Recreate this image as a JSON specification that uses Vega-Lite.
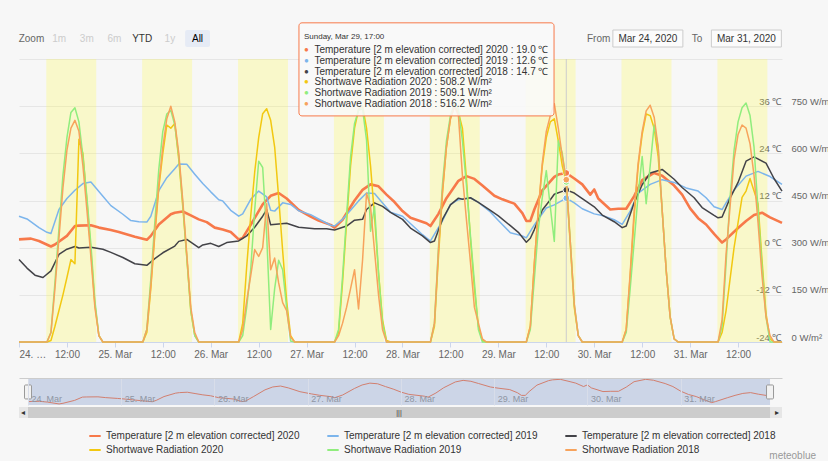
{
"$schema":"https://vega.github.io/schema/vega-lite/v6.json",
"background":"#f7f7f7",
"padding":{"left":17,"top":22,"right":0,"bottom":0},
"config":{
 "font":"Liberation Sans",
 "view":{"stroke":null},
 "axis":{"labelFont":"Liberation Sans","labelColor":"#666666","labelFontSize":10},
 "legend":{"labelFont":"Liberation Sans","labelFontSize":10,"labelColor":"#333333","labelLimit":400,"symbolType":"stroke","symbolStrokeWidth":2,"symbolSize":130,"columnPadding":23,"rowPadding":2,"labelOffset":4},
 "text":{"font":"Liberation Sans"},
 "title":{"font":"Liberation Sans"}
},
"title":{"text":"meteoblue","orient":"bottom","anchor":"end","frame":"bounds","dx":-13,"fontSize":10,"fontWeight":"normal","color":"#999999","offset":-4},
"datasets":{
 "bands":[
  {"start":"2020-03-24T06:50","end":"2020-03-24T19:20"},
  {"start":"2020-03-25T06:50","end":"2020-03-25T19:20"},
  {"start":"2020-03-26T06:50","end":"2020-03-26T19:20"},
  {"start":"2020-03-27T06:50","end":"2020-03-27T19:20"},
  {"start":"2020-03-28T06:50","end":"2020-03-28T19:20"},
  {"start":"2020-03-29T06:50","end":"2020-03-29T19:20"},
  {"start":"2020-03-30T06:50","end":"2020-03-30T19:20"},
  {"start":"2020-03-31T06:50","end":"2020-03-31T19:20"}
 ],
 "span":[{"start":"2020-03-24T00:00","end":"2020-03-31T23:00"}],
 "temp":[
  {"s":"T2020","t":"2020-03-24T00:00","v":2.1},{"s":"T2020","t":"2020-03-24T03:00","v":2.3},{"s":"T2020","t":"2020-03-24T05:00","v":1.7},{"s":"T2020","t":"2020-03-24T08:00","v":0.3},{"s":"T2020","t":"2020-03-24T09:00","v":0.8},{"s":"T2020","t":"2020-03-24T12:00","v":3.0},{"s":"T2020","t":"2020-03-24T14:00","v":5.5},{"s":"T2020","t":"2020-03-24T15:00","v":5.6},{"s":"T2020","t":"2020-03-24T18:00","v":5.7},{"s":"T2020","t":"2020-03-24T20:00","v":5.1},{"s":"T2020","t":"2020-03-24T23:00","v":4.5},
  {"s":"T2020","t":"2020-03-25T01:00","v":4.0},{"s":"T2020","t":"2020-03-25T05:00","v":2.8},{"s":"T2020","t":"2020-03-25T08:00","v":2.0},{"s":"T2020","t":"2020-03-25T09:00","v":3.0},{"s":"T2020","t":"2020-03-25T11:00","v":5.9},{"s":"T2020","t":"2020-03-25T14:00","v":8.5},{"s":"T2020","t":"2020-03-25T15:00","v":8.9},{"s":"T2020","t":"2020-03-25T17:00","v":9.2},{"s":"T2020","t":"2020-03-25T19:00","v":8.2},{"s":"T2020","t":"2020-03-25T21:00","v":7.2},{"s":"T2020","t":"2020-03-25T23:00","v":6.5},
  {"s":"T2020","t":"2020-03-26T01:00","v":5.1},{"s":"T2020","t":"2020-03-26T03:00","v":4.6},{"s":"T2020","t":"2020-03-26T05:00","v":4.0},{"s":"T2020","t":"2020-03-26T07:00","v":2.1},{"s":"T2020","t":"2020-03-26T08:00","v":2.5},{"s":"T2020","t":"2020-03-26T10:00","v":5.8},{"s":"T2020","t":"2020-03-26T13:00","v":11.0},{"s":"T2020","t":"2020-03-26T15:00","v":13.2},{"s":"T2020","t":"2020-03-26T17:00","v":13.9},{"s":"T2020","t":"2020-03-26T19:00","v":12.5},{"s":"T2020","t":"2020-03-26T22:00","v":9.6},
  {"s":"T2020","t":"2020-03-27T01:00","v":7.9},{"s":"T2020","t":"2020-03-27T03:00","v":6.9},{"s":"T2020","t":"2020-03-27T06:00","v":5.8},{"s":"T2020","t":"2020-03-27T07:00","v":5.1},{"s":"T2020","t":"2020-03-27T09:00","v":7.1},{"s":"T2020","t":"2020-03-27T12:00","v":12.0},{"s":"T2020","t":"2020-03-27T14:00","v":14.7},{"s":"T2020","t":"2020-03-27T16:00","v":16.1},{"s":"T2020","t":"2020-03-27T18:00","v":15.6},{"s":"T2020","t":"2020-03-27T20:00","v":13.5},{"s":"T2020","t":"2020-03-27T22:00","v":11.6},
  {"s":"T2020","t":"2020-03-28T00:00","v":9.3},{"s":"T2020","t":"2020-03-28T02:00","v":7.6},{"s":"T2020","t":"2020-03-28T06:00","v":6.2},{"s":"T2020","t":"2020-03-28T07:00","v":5.5},{"s":"T2020","t":"2020-03-28T09:00","v":8.6},{"s":"T2020","t":"2020-03-28T11:00","v":12.6},{"s":"T2020","t":"2020-03-28T14:00","v":17.0},{"s":"T2020","t":"2020-03-28T16:00","v":18.2},{"s":"T2020","t":"2020-03-28T18:00","v":17.5},{"s":"T2020","t":"2020-03-28T20:00","v":15.8},{"s":"T2020","t":"2020-03-28T23:00","v":13.2},
  {"s":"T2020","t":"2020-03-29T01:00","v":12.3},{"s":"T2020","t":"2020-03-29T04:00","v":11.2},{"s":"T2020","t":"2020-03-29T06:00","v":8.8},{"s":"T2020","t":"2020-03-29T07:00","v":6.8},{"s":"T2020","t":"2020-03-29T08:00","v":6.8},{"s":"T2020","t":"2020-03-29T09:00","v":9.7},{"s":"T2020","t":"2020-03-29T11:00","v":14.6},{"s":"T2020","t":"2020-03-29T14:00","v":18.0},{"s":"T2020","t":"2020-03-29T15:00","v":18.6},{"s":"T2020","t":"2020-03-29T17:00","v":19.0},{"s":"T2020","t":"2020-03-29T19:00","v":17.6},{"s":"T2020","t":"2020-03-29T21:00","v":16.1},{"s":"T2020","t":"2020-03-29T23:00","v":13.5},
  {"s":"T2020","t":"2020-03-30T00:00","v":14.8},{"s":"T2020","t":"2020-03-30T01:00","v":12.5},{"s":"T2020","t":"2020-03-30T04:00","v":9.7},{"s":"T2020","t":"2020-03-30T06:00","v":9.9},{"s":"T2020","t":"2020-03-30T08:00","v":9.9},{"s":"T2020","t":"2020-03-30T10:00","v":13.1},{"s":"T2020","t":"2020-03-30T12:00","v":17.2},{"s":"T2020","t":"2020-03-30T15:00","v":19.0},{"s":"T2020","t":"2020-03-30T17:00","v":18.3},{"s":"T2020","t":"2020-03-30T20:00","v":15.8},{"s":"T2020","t":"2020-03-30T22:00","v":13.5},
  {"s":"T2020","t":"2020-03-31T00:00","v":10.0},{"s":"T2020","t":"2020-03-31T02:00","v":7.5},{"s":"T2020","t":"2020-03-31T04:00","v":5.9},{"s":"T2020","t":"2020-03-31T06:00","v":3.5},{"s":"T2020","t":"2020-03-31T08:00","v":1.3},{"s":"T2020","t":"2020-03-31T09:00","v":2.1},{"s":"T2020","t":"2020-03-31T12:00","v":5.0},{"s":"T2020","t":"2020-03-31T14:00","v":6.8},{"s":"T2020","t":"2020-03-31T16:00","v":8.3},{"s":"T2020","t":"2020-03-31T18:00","v":8.9},{"s":"T2020","t":"2020-03-31T20:00","v":7.7},{"s":"T2020","t":"2020-03-31T23:00","v":6.3},

  {"s":"T2019","t":"2020-03-24T00:00","v":8.0},{"s":"T2019","t":"2020-03-24T02:00","v":7.3},{"s":"T2019","t":"2020-03-24T05:00","v":5.1},{"s":"T2019","t":"2020-03-24T07:00","v":3.9},{"s":"T2019","t":"2020-03-24T08:00","v":3.6},{"s":"T2019","t":"2020-03-24T10:00","v":9.7},{"s":"T2019","t":"2020-03-24T12:00","v":12.5},{"s":"T2019","t":"2020-03-24T14:00","v":14.6},{"s":"T2019","t":"2020-03-24T16:00","v":16.3},{"s":"T2019","t":"2020-03-24T18:00","v":16.7},{"s":"T2019","t":"2020-03-24T19:00","v":15.5},{"s":"T2019","t":"2020-03-24T21:00","v":13.1},{"s":"T2019","t":"2020-03-24T23:00","v":10.7},
  {"s":"T2019","t":"2020-03-25T02:00","v":8.5},{"s":"T2019","t":"2020-03-25T04:00","v":6.9},{"s":"T2019","t":"2020-03-25T06:00","v":6.6},{"s":"T2019","t":"2020-03-25T08:00","v":6.5},{"s":"T2019","t":"2020-03-25T09:00","v":8.0},{"s":"T2019","t":"2020-03-25T11:00","v":14.5},{"s":"T2019","t":"2020-03-25T13:00","v":17.8},{"s":"T2019","t":"2020-03-25T15:00","v":20.1},{"s":"T2019","t":"2020-03-25T16:00","v":21.3},{"s":"T2019","t":"2020-03-25T18:00","v":21.2},{"s":"T2019","t":"2020-03-25T20:00","v":18.7},{"s":"T2019","t":"2020-03-25T22:00","v":16.3},
  {"s":"T2019","t":"2020-03-26T00:00","v":14.2},{"s":"T2019","t":"2020-03-26T02:00","v":12.2},{"s":"T2019","t":"2020-03-26T03:00","v":11.9},{"s":"T2019","t":"2020-03-26T05:00","v":9.5},{"s":"T2019","t":"2020-03-26T07:00","v":8.0},{"s":"T2019","t":"2020-03-26T08:00","v":8.6},{"s":"T2019","t":"2020-03-26T10:00","v":12.3},{"s":"T2019","t":"2020-03-26T12:00","v":14.4},{"s":"T2019","t":"2020-03-26T14:00","v":12.9},{"s":"T2019","t":"2020-03-26T15:00","v":9.5},{"s":"T2019","t":"2020-03-26T16:00","v":9.3},{"s":"T2019","t":"2020-03-26T18:00","v":11.4},{"s":"T2019","t":"2020-03-26T20:00","v":11.0},{"s":"T2019","t":"2020-03-26T22:00","v":9.4},
  {"s":"T2019","t":"2020-03-27T01:00","v":8.4},{"s":"T2019","t":"2020-03-27T03:00","v":7.3},{"s":"T2019","t":"2020-03-27T06:00","v":5.7},{"s":"T2019","t":"2020-03-27T07:00","v":5.5},{"s":"T2019","t":"2020-03-27T09:00","v":7.2},{"s":"T2019","t":"2020-03-27T11:00","v":9.5},{"s":"T2019","t":"2020-03-27T13:00","v":11.9},{"s":"T2019","t":"2020-03-27T15:00","v":13.9},{"s":"T2019","t":"2020-03-27T17:00","v":13.8},{"s":"T2019","t":"2020-03-27T18:00","v":12.6},{"s":"T2019","t":"2020-03-27T21:00","v":9.0},
  {"s":"T2019","t":"2020-03-28T00:00","v":8.0},{"s":"T2019","t":"2020-03-28T03:00","v":5.2},{"s":"T2019","t":"2020-03-28T05:00","v":3.3},{"s":"T2019","t":"2020-03-28T07:00","v":1.7},{"s":"T2019","t":"2020-03-28T10:00","v":6.8},{"s":"T2019","t":"2020-03-28T12:00","v":11.0},{"s":"T2019","t":"2020-03-28T14:00","v":12.2},{"s":"T2019","t":"2020-03-28T17:00","v":12.7},{"s":"T2019","t":"2020-03-28T19:00","v":11.5},{"s":"T2019","t":"2020-03-28T22:00","v":9.1},
  {"s":"T2019","t":"2020-03-29T00:00","v":6.9},{"s":"T2019","t":"2020-03-29T03:00","v":3.8},{"s":"T2019","t":"2020-03-29T06:00","v":3.0},{"s":"T2019","t":"2020-03-29T07:00","v":2.5},{"s":"T2019","t":"2020-03-29T09:00","v":5.8},{"s":"T2019","t":"2020-03-29T12:00","v":10.1},{"s":"T2019","t":"2020-03-29T14:00","v":10.9},{"s":"T2019","t":"2020-03-29T17:00","v":12.6},{"s":"T2019","t":"2020-03-29T19:00","v":11.4},{"s":"T2019","t":"2020-03-29T21:00","v":9.9},
  {"s":"T2019","t":"2020-03-30T00:00","v":8.6},{"s":"T2019","t":"2020-03-30T02:00","v":8.2},{"s":"T2019","t":"2020-03-30T05:00","v":7.1},{"s":"T2019","t":"2020-03-30T07:00","v":5.9},{"s":"T2019","t":"2020-03-30T09:00","v":9.3},{"s":"T2019","t":"2020-03-30T11:00","v":13.9},{"s":"T2019","t":"2020-03-30T14:00","v":16.1},{"s":"T2019","t":"2020-03-30T17:00","v":17.3},{"s":"T2019","t":"2020-03-30T20:00","v":16.6},{"s":"T2019","t":"2020-03-30T23:00","v":15.2},
  {"s":"T2019","t":"2020-03-31T02:00","v":14.4},{"s":"T2019","t":"2020-03-31T04:00","v":12.7},{"s":"T2019","t":"2020-03-31T06:00","v":10.4},{"s":"T2019","t":"2020-03-31T08:00","v":9.7},{"s":"T2019","t":"2020-03-31T09:00","v":11.4},{"s":"T2019","t":"2020-03-31T11:00","v":14.7},{"s":"T2019","t":"2020-03-31T14:00","v":18.2},{"s":"T2019","t":"2020-03-31T17:00","v":19.4},{"s":"T2019","t":"2020-03-31T20:00","v":18.1},{"s":"T2019","t":"2020-03-31T23:00","v":16.1},

  {"s":"T2018","t":"2020-03-24T00:00","v":-3.0},{"s":"T2018","t":"2020-03-24T02:00","v":-5.2},{"s":"T2018","t":"2020-03-24T04:00","v":-7.0},{"s":"T2018","t":"2020-03-24T06:00","v":-7.6},{"s":"T2018","t":"2020-03-24T08:00","v":-5.9},{"s":"T2018","t":"2020-03-24T10:00","v":-1.7},{"s":"T2018","t":"2020-03-24T12:00","v":-0.4},{"s":"T2018","t":"2020-03-24T14:00","v":0.3},{"s":"T2018","t":"2020-03-24T15:00","v":-0.1},{"s":"T2018","t":"2020-03-24T18:00","v":0.1},{"s":"T2018","t":"2020-03-24T21:00","v":-0.4},{"s":"T2018","t":"2020-03-24T23:00","v":-1.2},
  {"s":"T2018","t":"2020-03-25T02:00","v":-2.5},{"s":"T2018","t":"2020-03-25T05:00","v":-4.1},{"s":"T2018","t":"2020-03-25T08:00","v":-4.5},{"s":"T2018","t":"2020-03-25T10:00","v":-2.8},{"s":"T2018","t":"2020-03-25T12:00","v":-1.3},{"s":"T2018","t":"2020-03-25T15:00","v":0.4},{"s":"T2018","t":"2020-03-25T16:00","v":1.6},{"s":"T2018","t":"2020-03-25T18:00","v":2.1},{"s":"T2018","t":"2020-03-25T21:00","v":0.0},{"s":"T2018","t":"2020-03-25T22:00","v":0.7},
  {"s":"T2018","t":"2020-03-26T00:00","v":1.1},{"s":"T2018","t":"2020-03-26T02:00","v":0.3},{"s":"T2018","t":"2020-03-26T04:00","v":1.3},{"s":"T2018","t":"2020-03-26T07:00","v":1.7},{"s":"T2018","t":"2020-03-26T09:00","v":3.0},{"s":"T2018","t":"2020-03-26T11:00","v":5.2},{"s":"T2018","t":"2020-03-26T13:00","v":8.0},{"s":"T2018","t":"2020-03-26T14:00","v":9.7},{"s":"T2018","t":"2020-03-26T15:00","v":5.8},{"s":"T2018","t":"2020-03-26T19:00","v":6.2},{"s":"T2018","t":"2020-03-26T22:00","v":5.2},
  {"s":"T2018","t":"2020-03-27T02:00","v":4.8},{"s":"T2018","t":"2020-03-27T05:00","v":4.8},{"s":"T2018","t":"2020-03-27T07:00","v":4.5},{"s":"T2018","t":"2020-03-27T10:00","v":5.5},{"s":"T2018","t":"2020-03-27T12:00","v":7.0},{"s":"T2018","t":"2020-03-27T14:00","v":7.2},{"s":"T2018","t":"2020-03-27T15:00","v":9.7},{"s":"T2018","t":"2020-03-27T17:00","v":11.4},{"s":"T2018","t":"2020-03-27T19:00","v":10.5},{"s":"T2018","t":"2020-03-27T21:00","v":9.0},
  {"s":"T2018","t":"2020-03-28T00:00","v":7.2},{"s":"T2018","t":"2020-03-28T02:00","v":5.0},{"s":"T2018","t":"2020-03-28T05:00","v":3.0},{"s":"T2018","t":"2020-03-28T07:00","v":1.3},{"s":"T2018","t":"2020-03-28T08:00","v":1.7},{"s":"T2018","t":"2020-03-28T10:00","v":7.2},{"s":"T2018","t":"2020-03-28T12:00","v":10.9},{"s":"T2018","t":"2020-03-28T14:00","v":12.6},{"s":"T2018","t":"2020-03-28T15:00","v":12.3},{"s":"T2018","t":"2020-03-28T17:00","v":12.7},{"s":"T2018","t":"2020-03-28T19:00","v":11.5},{"s":"T2018","t":"2020-03-28T22:00","v":9.5},
  {"s":"T2018","t":"2020-03-29T00:00","v":8.1},{"s":"T2018","t":"2020-03-29T03:00","v":5.6},{"s":"T2018","t":"2020-03-29T05:00","v":3.9},{"s":"T2018","t":"2020-03-29T07:00","v":1.4},{"s":"T2018","t":"2020-03-29T08:00","v":2.4},{"s":"T2018","t":"2020-03-29T09:00","v":4.6},{"s":"T2018","t":"2020-03-29T11:00","v":9.6},{"s":"T2018","t":"2020-03-29T13:00","v":12.2},{"s":"T2018","t":"2020-03-29T14:00","v":13.6},{"s":"T2018","t":"2020-03-29T17:00","v":14.7},{"s":"T2018","t":"2020-03-29T19:00","v":13.9},{"s":"T2018","t":"2020-03-29T21:00","v":12.5},
  {"s":"T2018","t":"2020-03-30T00:00","v":10.4},{"s":"T2018","t":"2020-03-30T02:00","v":8.3},{"s":"T2018","t":"2020-03-30T05:00","v":6.6},{"s":"T2018","t":"2020-03-30T07:00","v":5.1},{"s":"T2018","t":"2020-03-30T08:00","v":5.5},{"s":"T2018","t":"2020-03-30T10:00","v":11.4},{"s":"T2018","t":"2020-03-30T12:00","v":16.0},{"s":"T2018","t":"2020-03-30T14:00","v":19.0},{"s":"T2018","t":"2020-03-30T17:00","v":19.9},{"s":"T2018","t":"2020-03-30T20:00","v":17.4},{"s":"T2018","t":"2020-03-30T22:00","v":15.3},
  {"s":"T2018","t":"2020-03-31T01:00","v":12.7},{"s":"T2018","t":"2020-03-31T03:00","v":10.2},{"s":"T2018","t":"2020-03-31T06:00","v":8.2},{"s":"T2018","t":"2020-03-31T07:00","v":7.6},{"s":"T2018","t":"2020-03-31T08:00","v":7.8},{"s":"T2018","t":"2020-03-31T10:00","v":12.6},{"s":"T2018","t":"2020-03-31T12:00","v":16.6},{"s":"T2018","t":"2020-03-31T14:00","v":22.0},{"s":"T2018","t":"2020-03-31T16:00","v":23.1},{"s":"T2018","t":"2020-03-31T19:00","v":21.5},{"s":"T2018","t":"2020-03-31T21:00","v":17.6},{"s":"T2018","t":"2020-03-31T23:00","v":14.4}
 ],
 "rad":[
  {"t":"2020-03-24T00:00","R2020":0,"R2019":0,"R2018":0},
  {"t":"2020-03-24T07:00","R2020":0,"R2019":0,"R2018":0},{"t":"2020-03-24T08:00","R2020":5,"R2019":30,"R2018":30},{"t":"2020-03-24T09:00","R2020":50,"R2019":190,"R2018":170},{"t":"2020-03-24T10:00","R2020":100,"R2019":360,"R2018":330},{"t":"2020-03-24T11:00","R2020":150,"R2019":530,"R2018":490},{"t":"2020-03-24T12:00","R2020":205,"R2019":650,"R2018":610},{"t":"2020-03-24T13:00","R2020":262,"R2019":730,"R2018":680},{"t":"2020-03-24T14:00","R2020":249,"R2019":745,"R2018":705},{"t":"2020-03-24T15:00","R2020":645,"R2019":700,"R2018":670},{"t":"2020-03-24T16:00","R2020":600,"R2019":590,"R2018":560},{"t":"2020-03-24T17:00","R2020":450,"R2019":460,"R2018":420},{"t":"2020-03-24T18:00","R2020":290,"R2019":310,"R2018":270},{"t":"2020-03-24T19:00","R2020":120,"R2019":130,"R2018":110},{"t":"2020-03-24T20:00","R2020":20,"R2019":20,"R2018":20},{"t":"2020-03-24T21:00","R2020":0,"R2019":0,"R2018":0},
  {"t":"2020-03-25T07:00","R2020":0,"R2019":0,"R2018":0},{"t":"2020-03-25T08:00","R2020":30,"R2019":40,"R2018":40},{"t":"2020-03-25T09:00","R2020":170,"R2019":200,"R2018":180},{"t":"2020-03-25T10:00","R2020":340,"R2019":380,"R2018":350},{"t":"2020-03-25T11:00","R2020":490,"R2019":550,"R2018":500},{"t":"2020-03-25T12:00","R2020":600,"R2019":670,"R2018":620},{"t":"2020-03-25T13:00","R2020":690,"R2019":725,"R2018":710},{"t":"2020-03-25T14:00","R2020":680,"R2019":737,"R2018":750},{"t":"2020-03-25T15:00","R2020":695,"R2019":690,"R2018":700},{"t":"2020-03-25T16:00","R2020":580,"R2019":590,"R2018":600},{"t":"2020-03-25T17:00","R2020":430,"R2019":440,"R2018":450},{"t":"2020-03-25T18:00","R2020":270,"R2019":270,"R2018":280},{"t":"2020-03-25T19:00","R2020":100,"R2019":100,"R2018":110},{"t":"2020-03-25T20:00","R2020":20,"R2019":20,"R2018":30},{"t":"2020-03-25T21:00","R2020":0,"R2019":0,"R2018":0},
  {"t":"2020-03-26T07:00","R2020":0,"R2019":0,"R2018":0},{"t":"2020-03-26T08:00","R2020":60,"R2019":20,"R2018":40},{"t":"2020-03-26T09:00","R2020":240,"R2019":110,"R2018":130},{"t":"2020-03-26T10:00","R2020":400,"R2019":230,"R2018":210},{"t":"2020-03-26T11:00","R2020":540,"R2019":420,"R2018":294},{"t":"2020-03-26T12:00","R2020":650,"R2019":575,"R2018":272},{"t":"2020-03-26T13:00","R2020":726,"R2019":555,"R2018":300},{"t":"2020-03-26T14:00","R2020":742,"R2019":340,"R2018":440},{"t":"2020-03-26T15:00","R2020":705,"R2019":40,"R2018":230},{"t":"2020-03-26T16:00","R2020":620,"R2019":170,"R2018":267},{"t":"2020-03-26T17:00","R2020":460,"R2019":260,"R2018":188},{"t":"2020-03-26T18:00","R2020":290,"R2019":230,"R2018":125},{"t":"2020-03-26T19:00","R2020":130,"R2019":110,"R2018":100},{"t":"2020-03-26T20:00","R2020":20,"R2019":3,"R2018":15},{"t":"2020-03-26T21:00","R2020":0,"R2019":0,"R2018":0},
  {"t":"2020-03-27T07:00","R2020":0,"R2019":0,"R2018":0},{"t":"2020-03-27T08:00","R2020":30,"R2019":40,"R2018":20},{"t":"2020-03-27T09:00","R2020":190,"R2019":209,"R2018":60},{"t":"2020-03-27T10:00","R2020":380,"R2019":400,"R2018":110},{"t":"2020-03-27T11:00","R2020":560,"R2019":589,"R2018":170},{"t":"2020-03-27T12:00","R2020":680,"R2019":695,"R2018":230},{"t":"2020-03-27T13:00","R2020":740,"R2019":737,"R2018":105},{"t":"2020-03-27T14:00","R2020":750,"R2019":742,"R2018":260},{"t":"2020-03-27T15:00","R2020":680,"R2019":642,"R2018":473},{"t":"2020-03-27T16:00","R2020":560,"R2019":352,"R2018":430},{"t":"2020-03-27T17:00","R2020":400,"R2019":431,"R2018":290},{"t":"2020-03-27T18:00","R2020":220,"R2019":220,"R2018":150},{"t":"2020-03-27T19:00","R2020":70,"R2019":61,"R2018":40},{"t":"2020-03-27T20:00","R2020":5,"R2019":0,"R2018":0},{"t":"2020-03-27T21:00","R2020":0,"R2019":0,"R2018":0},
  {"t":"2020-03-28T07:00","R2020":0,"R2019":0,"R2018":0},{"t":"2020-03-28T08:00","R2020":50,"R2019":60,"R2018":60},{"t":"2020-03-28T09:00","R2020":270,"R2019":300,"R2018":290},{"t":"2020-03-28T10:00","R2020":470,"R2019":500,"R2018":480},{"t":"2020-03-28T11:00","R2020":620,"R2019":640,"R2018":620},{"t":"2020-03-28T12:00","R2020":710,"R2019":720,"R2018":710},{"t":"2020-03-28T13:00","R2020":750,"R2019":760,"R2018":750},{"t":"2020-03-28T14:00","R2020":730,"R2019":740,"R2018":720},{"t":"2020-03-28T15:00","R2020":680,"R2019":640,"R2018":530},{"t":"2020-03-28T16:00","R2020":520,"R2019":500,"R2018":390},{"t":"2020-03-28T17:00","R2020":330,"R2019":340,"R2018":255},{"t":"2020-03-28T18:00","R2020":170,"R2019":190,"R2018":110},{"t":"2020-03-28T19:00","R2020":50,"R2019":40,"R2018":60},{"t":"2020-03-28T20:00","R2020":5,"R2019":0,"R2018":10},{"t":"2020-03-28T21:00","R2020":0,"R2019":0,"R2018":0},
  {"t":"2020-03-29T07:00","R2020":0,"R2019":0,"R2018":0},{"t":"2020-03-29T08:00","R2020":50,"R2019":40,"R2018":50},{"t":"2020-03-29T09:00","R2020":250,"R2019":200,"R2018":250},{"t":"2020-03-29T10:00","R2020":420,"R2019":360,"R2018":420},{"t":"2020-03-29T11:00","R2020":560,"R2019":460,"R2018":570},{"t":"2020-03-29T12:00","R2020":650,"R2019":545,"R2018":670},{"t":"2020-03-29T13:00","R2020":700,"R2019":430,"R2018":720},{"t":"2020-03-29T14:00","R2020":710,"R2019":320,"R2018":758},{"t":"2020-03-29T15:00","R2020":640,"R2019":640,"R2018":680},{"t":"2020-03-29T16:00","R2020":560,"R2019":600,"R2018":590},{"t":"2020-03-29T17:00","R2020":508.2,"R2019":509.1,"R2018":516.2},{"t":"2020-03-29T18:00","R2020":310,"R2019":320,"R2018":320},{"t":"2020-03-29T19:00","R2020":110,"R2019":120,"R2018":120},{"t":"2020-03-29T20:00","R2020":20,"R2019":20,"R2018":20},{"t":"2020-03-29T21:00","R2020":0,"R2019":0,"R2018":0},
  {"t":"2020-03-30T07:00","R2020":0,"R2019":0,"R2018":0},{"t":"2020-03-30T08:00","R2020":40,"R2019":30,"R2018":40},{"t":"2020-03-30T09:00","R2020":210,"R2019":170,"R2018":220},{"t":"2020-03-30T10:00","R2020":400,"R2019":320,"R2018":420},{"t":"2020-03-30T11:00","R2020":560,"R2019":470,"R2018":570},{"t":"2020-03-30T12:00","R2020":660,"R2019":590,"R2018":670},{"t":"2020-03-30T13:00","R2020":725,"R2019":440,"R2018":735},{"t":"2020-03-30T14:00","R2020":720,"R2019":560,"R2018":753},{"t":"2020-03-30T15:00","R2020":680,"R2019":690,"R2018":715},{"t":"2020-03-30T16:00","R2020":590,"R2019":620,"R2018":620},{"t":"2020-03-30T17:00","R2020":420,"R2019":420,"R2018":420},{"t":"2020-03-30T18:00","R2020":230,"R2019":230,"R2018":230},{"t":"2020-03-30T19:00","R2020":80,"R2019":80,"R2018":80},{"t":"2020-03-30T20:00","R2020":10,"R2019":10,"R2018":10},{"t":"2020-03-30T21:00","R2020":0,"R2019":0,"R2018":0},
  {"t":"2020-03-31T07:00","R2020":0,"R2019":0,"R2018":0},{"t":"2020-03-31T08:00","R2020":30,"R2019":50,"R2018":70},{"t":"2020-03-31T09:00","R2020":100,"R2019":250,"R2018":280},{"t":"2020-03-31T10:00","R2020":200,"R2019":460,"R2018":430},{"t":"2020-03-31T11:00","R2020":300,"R2019":610,"R2018":580},{"t":"2020-03-31T12:00","R2020":380,"R2019":700,"R2018":660},{"t":"2020-03-31T13:00","R2020":460,"R2019":745,"R2018":690},{"t":"2020-03-31T14:00","R2020":480,"R2019":760,"R2018":680},{"t":"2020-03-31T15:00","R2020":520,"R2019":720,"R2018":630},{"t":"2020-03-31T16:00","R2020":480,"R2019":620,"R2018":530},{"t":"2020-03-31T17:00","R2020":440,"R2019":420,"R2018":380},{"t":"2020-03-31T18:00","R2020":260,"R2019":240,"R2018":210},{"t":"2020-03-31T19:00","R2020":90,"R2019":80,"R2018":80},{"t":"2020-03-31T20:00","R2020":10,"R2019":0,"R2018":20},{"t":"2020-03-31T21:00","R2020":0,"R2019":0,"R2018":0},
  {"t":"2020-03-31T23:00","R2020":0,"R2019":0,"R2018":0}
 ]
},
"spacing":-26,
"resolve":{"scale":{"color":"shared"},"legend":{"color":"shared"}},
"vconcat":[
 {
  "hconcat":[
   {
    "width":191,"height":17,
    "data":{"values":[{"b":"Zoom","st":"label"},{"b":"1m","st":"off"},{"b":"3m","st":"off"},{"b":"6m","st":"off"},{"b":"YTD","st":"on"},{"b":"1y","st":"off"},{"b":"All","st":"sel"}]},
    "layer":[
     {"transform":[{"filter":"datum.st === 'sel'"}],"mark":{"type":"rect","fill":"#e6ebf5","cornerRadius":2},
      "encoding":{"x":{"field":"b","type":"nominal","sort":null,"scale":{"domain":["Zoom","1m","3m","6m","YTD","1y","All"],"paddingInner":0.1,"paddingOuter":0},"axis":null}}},
     {"mark":{"type":"text","fontSize":10},
      "encoding":{"x":{"field":"b","type":"nominal","sort":null,"axis":null},"text":{"field":"b"},
       "color":{"condition":[{"test":"datum.st === 'off'","value":"#cccccc"},{"test":"datum.st === 'label'","value":"#666666"},{"test":"datum.st === 'sel'","value":"#000000"}],"value":"#333333"},
       "fontWeight":{"condition":{"test":"datum.st === 'sel'","value":"bold"},"value":"normal"}}}
    ]
   },
   {
    "width":197,"height":17,
    "data":{"values":[{"b":"From","st":"label"},{"b":"Mar 24, 2020","st":"input"},{"b":"To","st":"label"},{"b":"Mar 31, 2020","st":"input"}]},
    "layer":[
     {"transform":[{"filter":"datum.st === 'input'"}],"mark":{"type":"bar","width":70,"fill":"#fbfbfb","stroke":"#cccccc","strokeWidth":1},
      "encoding":{"x":{"field":"b","type":"nominal","sort":null,"scale":{"type":"point","domain":["From","Mar 24, 2020","To","Mar 31, 2020"],"padding":0.5},"axis":null}}},
     {"mark":{"type":"text","fontSize":10},
      "encoding":{"x":{"field":"b","type":"nominal","sort":null,"axis":null},"text":{"field":"b"},
       "color":{"condition":{"test":"datum.st === 'label'","value":"#666666"},"value":"#333333"}}}
    ]
   }
  ],
  "spacing":364
 },
 {
  "vconcat":[
   {
    "width":763,"height":283,
    "layer":[
     {
      "layer":[
       {"data":{"name":"bands"},"mark":{"type":"rect","fill":"#fffa3c","opacity":0.24},
        "encoding":{"x":{"field":"start","type":"temporal"},"x2":{"field":"end"}}},
       {"data":{"values":[{}]},"mark":{"type":"rule","color":"#cccccc","strokeWidth":1},
        "encoding":{"x":{"datum":{"year":2020,"month":3,"date":29,"hours":17},"type":"temporal"}}},
       {"data":{"name":"temp"},"mark":{"type":"line","strokeJoin":"round"},
        "encoding":{
         "x":{"field":"t","type":"temporal","scale":{"domain":[{"year":2020,"month":3,"date":24,"hours":0},{"year":2020,"month":3,"date":31,"hours":23}],"nice":false},
              "axis":{"title":null,
                "values":[{"year":2020,"month":3,"date":24,"hours":0},{"year":2020,"month":3,"date":24,"hours":12},{"year":2020,"month":3,"date":25,"hours":0},{"year":2020,"month":3,"date":25,"hours":12},{"year":2020,"month":3,"date":26,"hours":0},{"year":2020,"month":3,"date":26,"hours":12},{"year":2020,"month":3,"date":27,"hours":0},{"year":2020,"month":3,"date":27,"hours":12},{"year":2020,"month":3,"date":28,"hours":0},{"year":2020,"month":3,"date":28,"hours":12},{"year":2020,"month":3,"date":29,"hours":0},{"year":2020,"month":3,"date":29,"hours":12},{"year":2020,"month":3,"date":30,"hours":0},{"year":2020,"month":3,"date":30,"hours":12},{"year":2020,"month":3,"date":31,"hours":0},{"year":2020,"month":3,"date":31,"hours":12}],
                "labelExpr":"hours(datum.value) === 12 ? '12:00' : (date(datum.value) === 24 ? '24. …' : timeFormat(datum.value, '%d. %b'))","labelFlush":true,"labelOverlap":false,"grid":false,"tickSize":5,"tickColor":"#ccd6eb","domainColor":"#ccd6eb","labelPadding":2,"labelFontSize":10}},
         "y":{"field":"v","type":"quantitative","scale":{"domain":[-24,48],"nice":false,"zero":false},
              "axis":{"title":null,"orient":"right","values":[-24,-12,0,12,24,36,48],"labelExpr":"datum.value === 48 ? '' : datum.value + ' ℃'","grid":true,"gridColor":"#e6e6e6","ticks":false,"domain":false,"labelAlign":"right","labelPadding":-1,"labelBaseline":"bottom","labelFontSize":9.5}},
         "color":{"field":"s","type":"nominal","scale":{"domain":["T2020","T2019","T2018","R2020","R2019","R2018"],"range":["#f7794a","#7cb5ec","#434348","#f2c811","#90ed7d","#f7a35c"]},
              "legend":{"title":null,"orient":"none","legendX":69,"legendY":399,"direction":"horizontal","columns":3,"symbolType":"stroke","labelExpr":"datum.label === 'T2020' ? 'Temperature [2 m elevation corrected] 2020' : datum.label === 'T2019' ? 'Temperature [2 m elevation corrected] 2019' : datum.label === 'T2018' ? 'Temperature [2 m elevation corrected] 2018' : datum.label === 'R2020' ? 'Shortwave Radiation 2020' : datum.label === 'R2019' ? 'Shortwave Radiation 2019' : 'Shortwave Radiation 2018'"}},
         "strokeWidth":{"condition":{"test":"datum.s === 'T2020'","value":2.6},"value":1.5}
        }},
       {"data":{"name":"temp"},"transform":[{"filter":"timeFormat(toDate(datum.t), '%d %H') === '29 17'"}],
        "mark":{"type":"point","filled":true,"size":45,"stroke":"#ffffff","strokeWidth":1,"opacity":1},
        "encoding":{"x":{"field":"t","type":"temporal"},"y":{"field":"v","type":"quantitative"},"color":{"field":"s","type":"nominal"}}}
      ]
     },
     {
      "layer":[
       {"data":{"name":"rad"},"transform":[{"fold":["R2020","R2019","R2018"],"as":["s","v"]}],
        "mark":{"type":"line","strokeWidth":1.5,"strokeJoin":"round"},
        "encoding":{
         "x":{"field":"t","type":"temporal"},
         "y":{"field":"v","type":"quantitative","scale":{"domain":[0,900],"nice":false},
              "axis":{"title":null,"orient":"right","values":[0,150,300,450,600,750],"labelExpr":"datum.value === 0 ? '0 W/m²' : datum.value + ' W/m'","grid":false,"ticks":false,"domain":false,"labelAlign":"left","labelPadding":9,"labelBaseline":"bottom","labelFontSize":9.5}},
         "color":{"field":"s","type":"nominal"}
        }},
       {"data":{"name":"rad"},"transform":[{"fold":["R2020","R2019","R2018"],"as":["s","v"]},{"filter":"timeFormat(toDate(datum.t), '%d %H') === '29 17'"}],
        "mark":{"type":"point","filled":true,"size":45,"stroke":"#ffffff","strokeWidth":1,"opacity":1},
        "encoding":{"x":{"field":"t","type":"temporal"},"y":{"field":"v","type":"quantitative"},"color":{"field":"s","type":"nominal"}}},
       {"data":{"values":[{}]},"mark":{"type":"rect","fill":"#f9f9f9","fillOpacity":0.88,"stroke":"#f7794a","strokeWidth":1,"cornerRadius":3,"clip":false},
        "encoding":{"x":{"datum":{"year":2020,"month":3,"date":26,"hours":22,"minutes":5},"type":"temporal"},"x2":{"datum":{"year":2020,"month":3,"date":29,"hours":13,"minutes":56}},
                    "y":{"datum":1015,"type":"quantitative"},"y2":{"datum":719}}},
       {"data":{"values":[{}]},"mark":{"type":"text","text":"Sunday, Mar 29, 17:00","align":"left","baseline":"middle","fontSize":8,"color":"#333333","clip":false},
        "encoding":{"x":{"datum":{"year":2020,"month":3,"date":26,"hours":23,"minutes":20},"type":"temporal"},"y":{"datum":970,"type":"quantitative"}}},
       {"data":{"values":[{}]},"mark":{"type":"text","text":["Temperature [2 m elevation corrected] 2020 : 19.0 ℃","Temperature [2 m elevation corrected] 2019 : 12.6 ℃","Temperature [2 m elevation corrected] 2018 : 14.7 ℃","Shortwave Radiation 2020 : 508.2 W/m²","Shortwave Radiation 2019 : 509.1 W/m²","Shortwave Radiation 2018 : 516.2 W/m²"],"align":"left","baseline":"top","fontSize":10,"lineHeight":10.8,"color":"#333333","clip":false},
        "encoding":{"x":{"datum":{"year":2020,"month":3,"date":27,"hours":1,"minutes":58},"type":"temporal"},"y":{"datum":944.5,"type":"quantitative"}}},
       {"data":{"values":[{}]},"mark":{"type":"text","text":"●","align":"left","baseline":"middle","fontSize":8,"color":"#f7794a","clip":false},
        "encoding":{"x":{"datum":{"year":2020,"month":3,"date":26,"hours":23,"minutes":20},"type":"temporal"},"y":{"datum":929,"type":"quantitative"}}},
       {"data":{"values":[{}]},"mark":{"type":"text","text":"●","align":"left","baseline":"middle","fontSize":8,"color":"#7cb5ec","clip":false},
        "encoding":{"x":{"datum":{"year":2020,"month":3,"date":26,"hours":23,"minutes":20},"type":"temporal"},"y":{"datum":894,"type":"quantitative"}}},
       {"data":{"values":[{}]},"mark":{"type":"text","text":"●","align":"left","baseline":"middle","fontSize":8,"color":"#434348","clip":false},
        "encoding":{"x":{"datum":{"year":2020,"month":3,"date":26,"hours":23,"minutes":20},"type":"temporal"},"y":{"datum":860,"type":"quantitative"}}},
       {"data":{"values":[{}]},"mark":{"type":"text","text":"●","align":"left","baseline":"middle","fontSize":8,"color":"#f2c811","clip":false},
        "encoding":{"x":{"datum":{"year":2020,"month":3,"date":26,"hours":23,"minutes":20},"type":"temporal"},"y":{"datum":826,"type":"quantitative"}}},
       {"data":{"values":[{}]},"mark":{"type":"text","text":"●","align":"left","baseline":"middle","fontSize":8,"color":"#90ed7d","clip":false},
        "encoding":{"x":{"datum":{"year":2020,"month":3,"date":26,"hours":23,"minutes":20},"type":"temporal"},"y":{"datum":791,"type":"quantitative"}}},
       {"data":{"values":[{}]},"mark":{"type":"text","text":"●","align":"left","baseline":"middle","fontSize":8,"color":"#f7a35c","clip":false},
        "encoding":{"x":{"datum":{"year":2020,"month":3,"date":26,"hours":23,"minutes":20},"type":"temporal"},"y":{"datum":757,"type":"quantitative"}}}
      ]
     }
    ],
    "resolve":{"scale":{"y":"independent"},"axis":{"y":"independent"}}
   },
   {
    "vconcat":[
     {
      "width":763,"height":27,
      "layer":[
       {"data":{"name":"span"},"mark":{"type":"rect","fill":"#ccd5e7"},
        "encoding":{"x":{"field":"start","type":"temporal","scale":{"domain":[{"year":2020,"month":3,"date":23,"hours":21,"minutes":41},{"year":2020,"month":4,"date":1,"hours":2,"minutes":5}],"nice":false},
           "axis":{"title":null,"orient":"top","values":[{"year":2020,"month":3,"date":24},{"year":2020,"month":3,"date":25},{"year":2020,"month":3,"date":26},{"year":2020,"month":3,"date":27},{"year":2020,"month":3,"date":28},{"year":2020,"month":3,"date":29},{"year":2020,"month":3,"date":30},{"year":2020,"month":3,"date":31}],
             "labelExpr":"timeFormat(datum.value, '%d. %b')","grid":true,"gridColor":"#d8dde9","ticks":false,"domain":true,"domainColor":"#cccccc","labelAlign":"left","labelPadding":-25,"labelOffset":3,"labelColor":"#8f96a3","labelFontSize":9,"labelBaseline":"bottom","labelOverlap":false,"labelBound":false,"labelFlush":false,"zindex":1}},
          "x2":{"field":"end"}}},
       {"data":{"name":"temp"},"transform":[{"filter":"datum.s === 'T2020'"}],"mark":{"type":"line","color":"#d27f6f","strokeWidth":1},
        "encoding":{"x":{"field":"t","type":"temporal"},"y":{"field":"v","type":"quantitative","scale":{"domain":[-0.5,20],"nice":false,"zero":false},"axis":null}}},
       {"data":{"values":[{}]},"mark":{"type":"rect","fill":"#f2f2f2","stroke":"#999999","strokeWidth":1,"cornerRadius":1},
        "encoding":{"x":{"datum":{"year":2020,"month":3,"date":23,"hours":23,"minutes":6},"type":"temporal"},"x2":{"datum":{"year":2020,"month":3,"date":24,"hours":0,"minutes":54}},
                    "y":{"datum":14.7,"type":"quantitative"},"y2":{"datum":4.1}}},
       {"data":{"values":[{}]},"mark":{"type":"rect","fill":"#f2f2f2","stroke":"#999999","strokeWidth":1,"cornerRadius":1},
        "encoding":{"x":{"datum":{"year":2020,"month":3,"date":31,"hours":22,"minutes":6},"type":"temporal"},"x2":{"datum":{"year":2020,"month":3,"date":31,"hours":23,"minutes":54}},
                    "y":{"datum":14.7,"type":"quantitative"},"y2":{"datum":4.1}}}
      ]
     },
     {
      "width":763,"height":11,
      "view":{"fill":"#e6e6e6"},
      "data":{"name":"span"},
      "layer":[
       {"mark":{"type":"rect","fill":"#cccccc"},
        "encoding":{"x":{"field":"start","type":"temporal","scale":{"domain":[{"year":2020,"month":3,"date":23,"hours":21,"minutes":41},{"year":2020,"month":4,"date":1,"hours":2,"minutes":5}],"nice":false},"axis":null},"x2":{"field":"end"}}},
       {"transform":[{"calculate":"(time(toDate(datum.start)) + time(toDate(datum.end))) / 2","as":"mid"}],
        "mark":{"type":"text","text":"|||","fontSize":7,"fill":"#333333","color":"#333333"},
        "encoding":{"x":{"field":"mid","type":"temporal"}}},
       {"mark":{"type":"text","text":"◂","fontSize":8,"color":"#333333"},
        "encoding":{"x":{"datum":{"year":2020,"month":3,"date":23,"hours":22,"minutes":50},"type":"temporal"}}},
       {"mark":{"type":"text","text":"▸","fontSize":8,"color":"#333333"},
        "encoding":{"x":{"datum":{"year":2020,"month":4,"date":1,"hours":0,"minutes":48},"type":"temporal"}}}
      ]
     }
    ],
    "spacing":1
   }
  ],
  "spacing":18
 }
]
}
